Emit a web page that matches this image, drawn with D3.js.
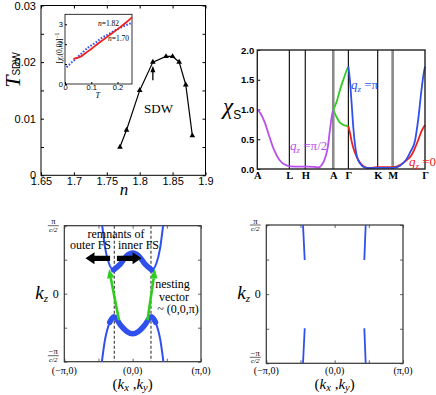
<!DOCTYPE html>
<html><head><meta charset="utf-8">
<script src="https://cdn.jsdelivr.net/npm/d3@7"></script>
<style>body{margin:0;background:#fff} svg{display:block}</style>
</head><body><svg id="c" width="436" height="395"></svg>
<script>
// ---------- Panel (a): T_SDW vs n ----------
const nValues = [1.77, 1.78, 1.80, 1.82, 1.84, 1.85, 1.86, 1.87, 1.88];
const tSDW = [0.005, 0.008, 0.015, 0.020, 0.021, 0.021, 0.020, 0.016, 0.007];
const nTicks = [1.65, 1.7, 1.75, 1.8, 1.85, 1.9];
const tLabelTicks = [0, 0.01, 0.02, 0.03];
const tMinorTicks = [0.005, 0.015, 0.025];
const arrowN = 1.82;

// inset: inverse susceptibility vs T
const insetT170 = [0.006, 0.02, 0.038, 0.06, 0.089, 0.115, 0.139, 0.165, 0.19, 0.22, 0.255];
const insetV170 = [0.84, 1.02, 1.22, 1.50, 1.84, 2.07, 2.31, 2.50, 2.68, 2.88, 3.07];
const insetT182 = [0.032, 0.045, 0.063, 0.08, 0.101, 0.125, 0.152, 0.18, 0.203, 0.23, 0.255];
const insetV182 = [1.26, 1.31, 1.40, 1.57, 1.77, 2.02, 2.28, 2.56, 2.78, 3.06, 3.35];
const insetXTicks = [0, 0.1, 0.2];
const insetYTicks = [0, 1, 2, 3];

// ---------- Panel (b): chi_S along k-path ----------
const kLabels = ["A", "L", "H", "A", "Γ", "K", "M", "Γ"];
const kPos = [0, 0.191, 0.286, 0.453, 0.543, 0.718, 0.807, 1];
const kGrayLines = [3, 6]; // indices of the thick gray lines
const chiTicks = [0, 0.5, 1.0, 1.5, 2.0];
const purplePos = [0, 0.02, 0.045, 0.07, 0.10, 0.13, 0.16, 0.20, 0.25, 0.30, 0.34, 0.365, 0.385, 0.405, 0.42, 0.435, 0.445, 0.453];
const purpleVal = [1.0, 0.93, 0.78, 0.56, 0.32, 0.16, 0.08, 0.045, 0.04, 0.04, 0.035, 0.025, 0.07, 0.19, 0.36, 0.70, 0.90, 1.0];
const greenPos = [0.453, 0.473, 0.493, 0.513, 0.533, 0.543];
const greenUpper = [1.0, 1.13, 1.33, 1.50, 1.66, 1.72];
const greenLower = [1.0, 0.87, 0.78, 0.74, 0.725, 0.72];
const bluePos = [0.543, 0.553, 0.563, 0.573, 0.583, 0.592, 0.612, 0.642, 0.672, 0.712, 0.811, 0.851, 0.891, 0.915, 0.94, 0.958, 0.98, 0.993, 1.0];
const blueVal = [1.72, 1.47, 1.08, 0.68, 0.40, 0.235, 0.095, 0.025, 0.015, 0.02, 0.02, 0.056, 0.17, 0.30, 0.47, 0.80, 1.35, 1.62, 1.72];
const redPos = [0.543, 0.553, 0.563, 0.573, 0.592, 0.612, 0.642, 0.672, 0.712, 0.811, 0.851, 0.891, 0.92, 0.94, 0.96, 0.98, 1.0];
const redVal = [0.72, 0.60, 0.46, 0.35, 0.21, 0.11, 0.034, 0.018, 0.03, 0.03, 0.067, 0.15, 0.235, 0.35, 0.49, 0.64, 0.74];

// ---------- Panel (c): Fermi surface cut with nesting ----------
const fsUpperU = [-0.445, -0.40, -0.345, -0.28, -0.185, -0.09, 0, 0.09, 0.185, 0.28, 0.345, 0.40, 0.445];
const fsUpperV = [1.0, 0.66, 0.44, 0.35, 0.43, 0.555, 0.60, 0.555, 0.43, 0.35, 0.44, 0.66, 1.0];
const fsLowerU = [-0.45, -0.405, -0.335, -0.275, -0.17, -0.08, 0, 0.08, 0.17, 0.275, 0.335, 0.405, 0.45];
const fsLowerV = [-1.0, -0.68, -0.42, -0.34, -0.47, -0.56, -0.59, -0.56, -0.47, -0.34, -0.42, -0.68, -1.0];
const dashU = [-0.268, 0.268];
const nestFromU = [-0.20, 0.217], nestFromV = [-0.39, -0.39];
const nestToU = [-0.345, 0.327], nestToV = [0.36, 0.36];
const remnantFromU = [-0.33, -0.23], remnantToU = [-0.69, 0.13], remnantV = 0.52;
const kTicks = [-1, -0.5, 0, 0.5, 1];
const kxLabels = ["(−π,0)", "(0,0)", "(π,0)"];
const kxLabelPos = [-1, 0, 1];

// ---------- Panel (d): segments ----------
const segU0 = [-0.463, -0.438, 0.454, 0.434];
const segV0 = [1.0, -0.494, 1.0, -0.494];
const segU1 = [-0.438, -0.463, 0.434, 0.454];
const segV1 = [0.494, -1.0, 0.494, -1.0];

// =========================================================
const svg = d3.select("#c");
const serif = "'Liberation Serif','Times New Roman',serif";
const sans = "'Liberation Sans',Arial,Helvetica,sans-serif";
const BLUE = "#3050ee", RED = "#ee2020", GREEN = "#30cc20", PURPLE = "#bb4ef0";

function styleAxis(g, font, size, weight) {
  g.select(".domain").remove();
  g.selectAll("text").style("font-family", font).style("font-size", size + "px").style("font-weight", weight || "normal").attr("fill", "#000");
  g.selectAll("line").attr("stroke", "#000");
}

// ---------------- Panel (a) ----------------
const xA = d3.scaleLinear([1.65, 1.9], [41, 205.5]);
const yA = d3.scaleLinear([0, 0.03], [175.3, 5.5]);
const gA = svg.append("g");
gA.append("g").attr("transform", `translate(0,${yA(0)})`)
  .call(d3.axisBottom(xA).tickValues(nTicks).tickSize(-3).tickPadding(2).tickFormat(d => String(d)))
  .call(g => styleAxis(g, sans, 11));
gA.append("g").attr("transform", `translate(0,${yA(0.03)})`)
  .call(d3.axisTop(xA).tickValues(nTicks).tickSize(-3).tickFormat(""))
  .call(g => styleAxis(g, sans, 11));
gA.append("g").attr("transform", `translate(${xA(1.65)},0)`)
  .call(d3.axisLeft(yA).tickValues(tLabelTicks.concat(tMinorTicks)).tickSize(-3).tickPadding(5)
    .tickFormat(d => tLabelTicks.includes(d) ? String(d) : ""))
  .call(g => styleAxis(g, sans, 11));
gA.append("g").attr("transform", `translate(${xA(1.9)},0)`)
  .call(d3.axisRight(yA).tickValues(tLabelTicks.concat(tMinorTicks)).tickSize(-3).tickFormat(""))
  .call(g => styleAxis(g, sans, 11));
gA.append("rect").attr("x", xA(1.65)).attr("y", yA(0.03)).attr("width", xA(1.9) - xA(1.65)).attr("height", yA(0) - yA(0.03))
  .attr("fill", "none").attr("stroke", "#000").attr("stroke-width", 1);

const ptsA = d3.zip(nValues, tSDW);
gA.append("path").datum(ptsA).attr("d", d3.line().x(d => xA(d[0])).y(d => yA(d[1])))
  .attr("fill", "none").attr("stroke", "#000").attr("stroke-width", 1.2);
gA.selectAll(".tri").data(ptsA).enter().append("path")
  .attr("transform", d => `translate(${xA(d[0])},${yA(d[1])})`)
  .attr("d", d3.symbol(d3.symbolTriangle, 14)).attr("fill", "#000");

// arrow
const ax = xA(arrowN);
gA.append("line").attr("x1", ax).attr("x2", ax).attr("y1", yA(0.0168)).attr("y2", yA(0.0186))
  .attr("stroke", "#000").attr("stroke-width", 1.3);
gA.append("path").attr("d", `M${ax},${yA(0.0193)} L${ax - 2.5},${yA(0.0182)} L${ax + 2.5},${yA(0.0182)} Z`).attr("fill", "#000");

gA.append("text").attr("x", xA(1.8286)).attr("y", yA(0.0110)).attr("text-anchor", "middle")
  .style("font", `13px ${serif}`).text("SDW");

// axis titles
const tl = gA.append("text").attr("transform", `translate(19.5,70) rotate(-90)`).attr("text-anchor", "middle");
tl.append("tspan").style("font", `italic 22px ${serif}`).text("T");
tl.append("tspan").attr("dy", 0.8).style("font", `10px ${sans}`).text("SDW");
gA.append("text").attr("x", 124).attr("y", 195).attr("text-anchor", "middle").style("font", `italic 17px ${serif}`).text("n");

// inset
const xI = d3.scaleLinear([0, 0.255], [65, 132]);
const yI = d3.scaleLinear([0, 3.5], [84, 14.3]);
const gI = svg.append("g");
gI.append("rect").attr("x", xI(0)).attr("y", yI(3.5)).attr("width", xI(0.255) - xI(0)).attr("height", yI(0) - yI(3.5))
  .attr("fill", "#fff").attr("stroke", "#000").attr("stroke-width", 0.8);
gI.append("g").attr("transform", `translate(0,${yI(0)})`)
  .call(d3.axisBottom(xI).tickValues(insetXTicks).tickSize(-2).tickPadding(1).tickFormat(d => String(d)))
  .call(g => styleAxis(g, sans, 7.5));
gI.append("g").attr("transform", `translate(${xI(0)},0)`)
  .call(d3.axisLeft(yI).tickValues(insetYTicks).tickSize(-2).tickPadding(2).tickFormat(d => d === 1 ? "" : String(d)))
  .call(g => styleAxis(g, sans, 7.5));
const lineI = d3.line().curve(d3.curveMonotoneX).x(d => xI(d[0])).y(d => yI(d[1]));
gI.append("path").datum(d3.zip(insetT170, insetV170)).attr("d", lineI)
  .attr("fill", "none").attr("stroke", BLUE).attr("stroke-width", 2).attr("stroke-dasharray", "1.6,1.6");
gI.append("path").datum(d3.zip(insetT182, insetV182)).attr("d", lineI)
  .attr("fill", "none").attr("stroke", RED).attr("stroke-width", 1.8);
function nLabel(x, y, txt) {
  const t = gI.append("text").attr("x", x).attr("y", y).style("font", `7.5px ${serif}`);
  t.append("tspan").style("font-style", "italic").text("n");
  t.append("tspan").text(txt);
}
nLabel(98, 25.5, "=1.82");
nLabel(108, 40.5, "=1.70");
gI.append("text").attr("x", xI(0.125)).attr("y", 97.5).attr("text-anchor", "middle").style("font", `italic 8px ${serif}`).text("T");
const il = gI.append("text").attr("transform", `translate(61.5,48) rotate(-90)`).attr("text-anchor", "middle").style("font", `7.5px ${serif}`);
il.append("tspan").text("[");
il.append("tspan").style("font-style", "italic").text("χ");
il.append("tspan").attr("dy", 1.5).style("font-size", "5px").text("s");
il.append("tspan").attr("dy", -1.5).text("(0,0)]");
il.append("tspan").attr("dy", -3).style("font-size", "5.5px").text("−1");

// ---------------- Panel (b) ----------------
const xB = d3.scaleLinear([0, 1], [257.3, 425]);
const yB = d3.scaleLinear([0, 2], [169, 50]);
const gB = svg.append("g");
gB.selectAll(".kl").data(kPos.slice(1, -1)).enter().append("line")
  .attr("x1", d => xB(d)).attr("x2", d => xB(d)).attr("y1", yB(0)).attr("y2", yB(2))
  .attr("stroke", (d, i) => kGrayLines.includes(i + 1) ? "#8a8a8a" : "#000")
  .attr("stroke-width", (d, i) => kGrayLines.includes(i + 1) ? 2.6 : 1.1);
gB.append("g").attr("transform", `translate(${xB(0)},0)`)
  .call(d3.axisLeft(yB).tickValues(chiTicks).tickSize(-3).tickPadding(3).tickFormat(d3.format(".1f")))
  .call(g => styleAxis(g, sans, 9.5, "bold"));
gB.append("g").attr("transform", `translate(0,${yB(0)})`)
  .call(d3.axisBottom(xB).tickValues(kPos).tickSize(0).tickPadding(3).tickFormat((d, i) => kLabels[i]))
  .call(g => styleAxis(g, serif, 10.5, "bold"));
const lineB = d3.line().curve(d3.curveMonotoneX).x(d => xB(d[0])).y(d => yB(d[1]));
function curveB(pos, val, col) {
  gB.append("path").datum(d3.zip(pos, val)).attr("d", lineB).attr("fill", "none").attr("stroke", col).attr("stroke-width", 1.8);
}
curveB(purplePos, purpleVal, PURPLE);
curveB(greenPos, greenUpper, GREEN);
curveB(greenPos, greenLower, GREEN);
curveB(redPos, redVal, RED);
curveB(bluePos, blueVal, BLUE);
gB.append("rect").attr("x", xB(0)).attr("y", yB(2)).attr("width", xB(1) - xB(0)).attr("height", yB(0) - yB(2))
  .attr("fill", "none").attr("stroke", "#222").attr("stroke-width", 1.4);
function qLabel(x, y, txt, col) {
  const t = gB.append("text").attr("x", x).attr("y", y).attr("fill", col).style("font", `13px ${serif}`);
  t.append("tspan").style("font-style", "italic").text("q");
  t.append("tspan").attr("dy", 3).style("font-size", "9px").style("font-style", "italic").text("z");
  t.append("tspan").attr("dy", -3).text(" =" + txt);
}
qLabel(290, 150, "π/2", PURPLE);
qLabel(351, 89, "π", BLUE);
qLabel(409, 166, "0", RED);
const cl = gB.append("text").attr("x", 223).attr("y", 114);
cl.append("tspan").style("font", `italic 23px ${serif}`).text("χ");
cl.append("tspan").attr("dy", 5).style("font", `12px ${sans}`).text("S");

// ---------------- Panels (c) and (d) shared ----------------
function kPanel(left, right, top, bottom) {
  const x = d3.scaleLinear([-1, 1], [left, right]);
  const y = d3.scaleLinear([-1, 1], [bottom, top]);
  const g = svg.append("g");
  g.append("g").attr("transform", `translate(${left},0)`).call(d3.axisLeft(y).tickValues(kTicks).tickSize(-3).tickFormat(""))
    .call(gg => styleAxis(gg, serif, 10)).selectAll("line").attr("stroke", "#666");
  g.append("g").attr("transform", `translate(${right},0)`).call(d3.axisRight(y).tickValues(kTicks).tickSize(-3).tickFormat(""))
    .call(gg => styleAxis(gg, serif, 10)).selectAll("line").attr("stroke", "#666");
  g.append("g").attr("transform", `translate(0,${bottom})`).call(d3.axisBottom(x).tickValues(kTicks).tickSize(-3).tickFormat(""))
    .call(gg => styleAxis(gg, serif, 10)).selectAll("line").attr("stroke", "#666");
  g.append("g").attr("transform", `translate(0,${top})`).call(d3.axisTop(x).tickValues(kTicks).tickSize(-3).tickFormat(""))
    .call(gg => styleAxis(gg, serif, 10)).selectAll("line").attr("stroke", "#666");
  // x labels
  g.selectAll(".kx").data(kxLabelPos).enter().append("text")
    .attr("x", d => x(d)).attr("y", 374).attr("text-anchor", "middle")
    .style("font", `10px ${serif}`).text((d, i) => kxLabels[i]);
  const xt = g.append("text").attr("x", x(0)).attr("y", 389).attr("text-anchor", "middle").style("font", `15px ${serif}`);
  xt.append("tspan").text("(");
  xt.append("tspan").style("font-style", "italic").text("k");
  xt.append("tspan").attr("dy", 2).style("font-size", "10.5px").style("font-style", "italic").text("x");
  xt.append("tspan").attr("dy", -2).text(" ,");
  xt.append("tspan").style("font-style", "italic").text("k");
  xt.append("tspan").attr("dy", 2).style("font-size", "10.5px").style("font-style", "italic").text("y");
  xt.append("tspan").attr("dy", -2).text(")");
  // y labels
  const fx = left - 11;
  function frac(cy, num) {
    g.append("text").attr("x", fx).attr("y", cy - 1.3).attr("text-anchor", "middle").style("font", `8.5px ${serif}`).text(num);
    g.append("line").attr("x1", fx - 5.5).attr("x2", fx + 5.5).attr("y1", cy).attr("y2", cy).attr("stroke", "#000").attr("stroke-width", 0.6);
    g.append("text").attr("x", fx).attr("y", cy + 6).attr("text-anchor", "middle").style("font", `italic 7px ${serif}`).text("c/2");
  }
  frac(y(1), "π");
  frac(y(-1) - 6, "−π");
  g.append("text").attr("x", left - 8.5).attr("y", y(0) + 4).attr("text-anchor", "middle").style("font", `12px ${serif}`).text("0");
  const kz = g.append("text").attr("x", left - 29).attr("y", y(0) + 5).style("font", `italic 19px ${serif}`);
  kz.append("tspan").text("k");
  kz.append("tspan").attr("dy", 3).style("font-size", "11px").text("z");
  g.append("rect").attr("x", left).attr("y", top).attr("width", right - left).attr("height", bottom - top)
    .attr("fill", "none").attr("stroke", "#333").attr("stroke-width", 1.2);
  return { g, x, y };
}

// ---------------- Panel (c) ----------------
const C = kPanel(64.3, 201, 225.7, 361.7);
const lineC = d3.line().curve(d3.curveMonotoneX).x(d => C.x(d[0])).y(d => C.y(d[1]));
C.g.selectAll(".dash").data(dashU).enter().append("line")
  .attr("x1", d => C.x(d)).attr("x2", d => C.x(d)).attr("y1", C.y(1)).attr("y2", C.y(-1))
  .attr("stroke", "#555").attr("stroke-width", 1.3).attr("stroke-dasharray", "3,2");
[[fsUpperU, fsUpperV], [fsLowerU, fsLowerV]].forEach(([u, v]) => {
  const pts = d3.zip(u, v);
  C.g.append("path").datum(pts).attr("d", lineC).attr("fill", "none").attr("stroke", BLUE).attr("stroke-width", 2);
  C.g.append("path").datum(pts.filter(p => Math.abs(p[0]) <= 0.34)).attr("d", lineC).attr("fill", "none")
    .attr("stroke", BLUE).attr("stroke-width", 5.5).attr("stroke-linecap", "round");
});
// nesting arrows
nestFromU.forEach((u0, i) => {
  const x0 = C.x(u0), y0 = C.y(nestFromV[i]), x1 = C.x(nestToU[i]), y1 = C.y(nestToV[i]);
  const dx = x1 - x0, dy = y1 - y0, L = Math.hypot(dx, dy), ux = dx / L, uy = dy / L;
  const hl = 9, hw = 3.8;
  const bx = x1 - ux * hl, by = y1 - uy * hl;
  C.g.append("line").attr("x1", x0).attr("y1", y0).attr("x2", bx).attr("y2", by).attr("stroke", GREEN).attr("stroke-width", 2.6);
  C.g.append("path").attr("d", `M${x1},${y1} L${bx - uy * hw},${by + ux * hw} L${bx + uy * hw},${by - ux * hw} Z`).attr("fill", GREEN);
});
// remnant arrows
remnantFromU.forEach((u0, i) => {
  const x0 = C.x(u0), x1 = C.x(remnantToU[i]), yy = C.y(remnantV);
  const s = Math.sign(x1 - x0), hl = 9, sw = 2.6, hw = 6;
  const bx = x1 - s * hl;
  C.g.append("path").attr("d",
    `M${x0},${yy - sw} L${bx},${yy - sw} L${bx},${yy - hw} L${x1},${yy} L${bx},${yy + hw} L${bx},${yy + sw} L${x0},${yy + sw} Z`)
    .attr("fill", "#000");
});
const annot = [["remnants of", 116, 238], ["outer FS", 90.5, 249], ["inner FS", 138.5, 249],
  ["nesting", 172.5, 288.3], ["vector", 174, 300.8]];
annot.forEach(a => C.g.append("text").attr("x", a[1]).attr("y", a[2]).attr("text-anchor", "middle")
  .style("font", `12px ${serif}`).text(a[0]));
C.g.append("text").attr("x", 178).attr("y", 313).attr("text-anchor", "middle").style("font", `12px ${serif}`).text("~ (0,0,π)");

// ---------------- Panel (d) ----------------
const D = kPanel(266.3, 403, 225, 363.3);
D.g.selectAll(".seg").data(segU0).enter().append("line")
  .attr("x1", (d, i) => D.x(segU0[i])).attr("y1", (d, i) => D.y(segV0[i]))
  .attr("x2", (d, i) => D.x(segU1[i])).attr("y2", (d, i) => D.y(segV1[i]))
  .attr("stroke", BLUE).attr("stroke-width", 1.8);
</script></body></html>
